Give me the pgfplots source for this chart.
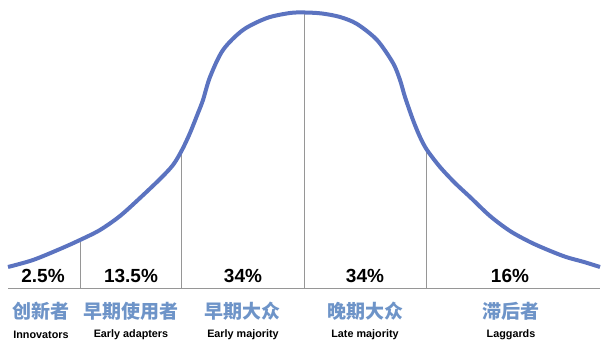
\documentclass[border=0pt]{standalone}
\usepackage{pgfplots}
\pgfplotsset{compat=1.18}
\usepackage{fontspec}
\setmainfont{Liberation Sans}
\newfontfamily\cjk{Noto Sans CJK SC}
\definecolor{curveblue}{RGB}{91,115,192}
\definecolor{cnblue}{RGB}{110,148,200}
\definecolor{linegray}{RGB}{150,150,150}
\begin{document}
\begin{tikzpicture}
\begin{axis}[
  scale only axis, width=604pt, height=355pt,
  xmin=0, xmax=604, ymin=0, ymax=355, y dir=reverse,
  hide axis, clip=false,
]
% baseline
\addplot[linegray, line width=1pt] coordinates {(8,288) (600,288)};
% vertical separators
\addplot[linegray, line width=1pt] coordinates {(80.5,288) (80.5,240)};
\addplot[linegray, line width=1pt] coordinates {(181.5,288) (181.5,152)};
\addplot[linegray, line width=1pt] coordinates {(304,288) (304,13)};
\addplot[linegray, line width=1pt] coordinates {(426.5,288) (426.5,150)};
% curve
\addplot[curveblue, line width=4pt, smooth] coordinates {
(8,267) (33,260) (60,249) (80,240) (100,230) (120,216) (140,198) (160,179)
(173,165) (182,150) (190,133) (198,113) (203,100) (210,77) (223,50) (243,30)
(267,18) (290,13) (305,12.5) (322,13.5) (340,17) (357,24) (377,40) (393,63) (400,80)
(405,97) (413,120) (420,137) (427,150) (440,167) (455,183) (470,197)
(490,216) (510,231) (530,242) (548,250) (566,257) (584,262) (600,267)};
% percentages
\node[font=\bfseries\fontsize{19}{19}\selectfont] at (axis cs:43,276) {2.5\%};
\node[font=\bfseries\fontsize{19}{19}\selectfont] at (axis cs:131,276) {13.5\%};
\node[font=\bfseries\fontsize{19}{19}\selectfont] at (axis cs:243,276) {34\%};
\node[font=\bfseries\fontsize{19}{19}\selectfont] at (axis cs:365,276) {34\%};
\node[font=\bfseries\fontsize{19}{19}\selectfont] at (axis cs:510,276) {16\%};
% chinese labels
\node[text=cnblue, font=\cjk\bfseries\fontsize{19}{19}\selectfont] at (axis cs:41,311) {创新者};
\node[text=cnblue, font=\cjk\bfseries\fontsize{19}{19}\selectfont] at (axis cs:131,311) {早期使用者};
\node[text=cnblue, font=\cjk\bfseries\fontsize{19}{19}\selectfont] at (axis cs:242,311) {早期大众};
\node[text=cnblue, font=\cjk\bfseries\fontsize{19}{19}\selectfont] at (axis cs:365,311) {晚期大众};
\node[text=cnblue, font=\cjk\bfseries\fontsize{19}{19}\selectfont] at (axis cs:511,311) {滞后者};
% english labels
\node[font=\bfseries\fontsize{10.8}{11}\selectfont] at (axis cs:41,335) {Innovators};
\node[font=\bfseries\fontsize{10.8}{11}\selectfont] at (axis cs:131,335) {Early adapters};
\node[font=\bfseries\fontsize{10.8}{11}\selectfont] at (axis cs:243,335) {Early majority};
\node[font=\bfseries\fontsize{10.8}{11}\selectfont] at (axis cs:365,335) {Late majority};
\node[font=\bfseries\fontsize{10.8}{11}\selectfont] at (axis cs:511,335) {Laggards};
\end{axis}
\pgfresetboundingbox
\path (0,0) rectangle (604pt,355pt);
\end{tikzpicture}
\end{document}
